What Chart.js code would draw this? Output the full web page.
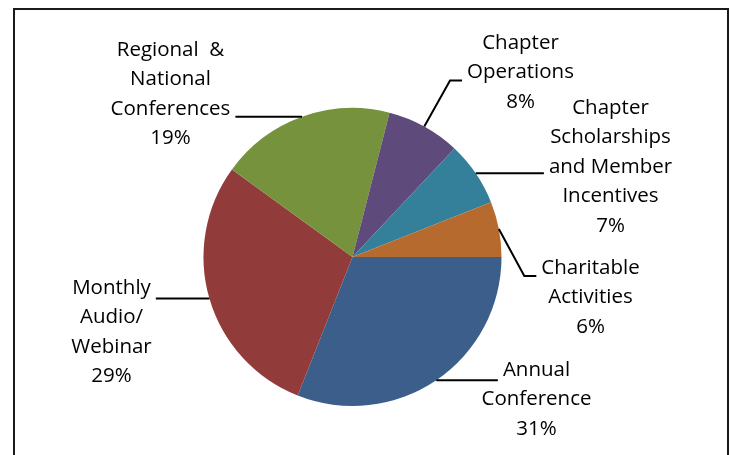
<!DOCTYPE html>
<html>
<head>
<meta charset="utf-8">
<script src="https://cdn.jsdelivr.net/npm/chart.js@4/dist/chart.umd.min.js"></script>
<style>
    html, body { margin: 0; padding: 0; background: #fff; }
</style>
</head>
<body>
<canvas id="budgetPie" width="730" height="455"></canvas>
<script>
// Budget share by category (percent), clockwise from 3 o'clock
const categories = [
    ['Annual', 'Conference'],
    ['Monthly', 'Audio/', 'Webinar'],
    ['Regional  &', 'National', 'Conferences'],
    ['Chapter', 'Operations'],
    ['Chapter', 'Scholarships', 'and Member', 'Incentives'],
    ['Charitable', 'Activities']
];
const shares = [31, 29, 19, 8, 7, 6];
const sliceColors = ['#3B5E8B', '#913C3B', '#77923D', '#5E4A7B', '#34809A', '#B76A2E'];

// where each label sits, relative to the pie centre (first text line centre)
const labelSpots = [
    { dx: 184, dy: 113, row: 0, side: 'left' },
    { dx: -241, dy: 31, row: 0, side: 'right' },
    { dx: -182, dy: -207, row: 2, side: 'right' },
    { dx: 168, dy: -214, row: 1, side: 'left' },
    { dx: 258, dy: -149, row: 2, side: 'left' },
    { dx: 238, dy: 11, row: 0, side: 'left' }
];

const labelFont = '20.5px "Open Sans"';
const lineHeight = 29.5;

const frame = {
    id: 'frame',
    beforeDraw(chart) {
        const ctx = chart.ctx;
        ctx.save();
        ctx.strokeStyle = '#1a1a1a';
        ctx.lineWidth = 2;
        ctx.strokeRect(14, 9, 714, 470);
        ctx.restore();
    }
};

const calloutLabels = {
    id: 'calloutLabels',
    afterDatasetsDraw(chart) {
        const ctx = chart.ctx;
        const total = shares.reduce((a, b) => a + b, 0);
        const arcs = chart.getDatasetMeta(0).data;
        ctx.save();
        ctx.font = labelFont;
        ctx.fillStyle = '#000';
        ctx.strokeStyle = '#000';
        ctx.lineWidth = 2;
        ctx.textAlign = 'center';
        ctx.textBaseline = 'middle';
        arcs.forEach((arc, i) => {
            const p = arc.getProps(['x', 'y', 'startAngle', 'endAngle', 'outerRadius'], true);
            const mid = (p.startAngle + p.endAngle) / 2;
            const ex = p.x + p.outerRadius * Math.cos(mid);
            const ey = p.y + p.outerRadius * Math.sin(mid);
            const spot = labelSpots[i];
            const cx = p.x + spot.dx;
            const y0 = p.y + spot.dy;
            const lines = categories[i].concat(Math.round(shares[i] / total * 100) + '%');
            lines.forEach((t, k) => ctx.fillText(t, cx, y0 + k * lineHeight));

            const w = ctx.measureText(lines[spot.row]).width;
            let ay = y0 + spot.row * lineHeight + 8;
            if (Math.abs(ay - ey) < 6) ay = ey; // keep short leaders level
            const dir = spot.side === 'left' ? -1 : 1;
            const ax = cx + dir * (w / 2 + 5);
            ctx.beginPath();
            ctx.moveTo(ex, ey);
            ctx.lineTo(ax + dir * 12, ay);
            ctx.lineTo(ax, ay);
            ctx.stroke();
        });
        ctx.restore();
    }
};

const ctx = document.getElementById('budgetPie').getContext('2d');
const budgetPie = new Chart(ctx, {
    type: 'pie',
    data: {
        labels: categories,
        datasets: [{
            data: shares,
            backgroundColor: sliceColors,
            borderWidth: 0
        }]
    },
    options: {
        responsive: false,
        animation: false,
        rotation: 90,
        layout: {
            padding: { left: 203.5, right: 228.5, top: 108, bottom: 49 }
        },
        plugins: {
            legend: { display: false },
            tooltip: { enabled: false }
        }
    },
    plugins: [frame, calloutLabels]
});
</script>
</body>
</html>
